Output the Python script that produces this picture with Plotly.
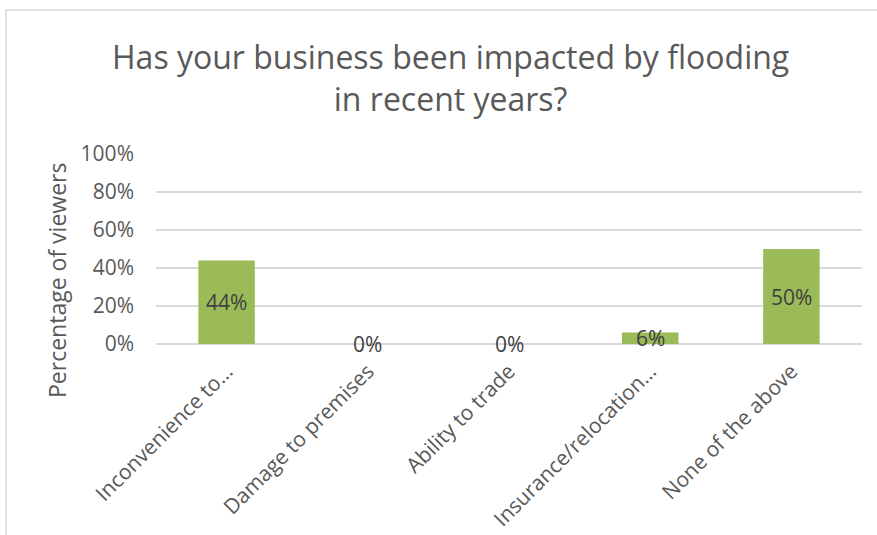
import plotly.graph_objects as go

# Survey responses
categories = [
    "Inconvenience to…",
    "Damage to premises",
    "Ability to trade",
    "Insurance/relocation…",
    "None of the above",
]
shares = [0.44, 0.00, 0.00, 0.06, 0.50]
y_ticks = [0, 0.2, 0.4, 0.6, 0.8, 1.0]
y_tick_labels = ["0%", "20%", "40%", "60%", "80%", "100%"]

title_text = "Has your business been impacted by flooding<br>in recent years?"
y_title = "Percentage of viewers"

W, H = 877, 535
M = dict(l=156, r=15, t=154, b=191)
grey = "#595959"
grid = "#D9D9D9"
font_family = "Open Sans, Liberation Sans, sans-serif"

pw = W - M["l"] - M["r"]
ph = H - M["t"] - M["b"]
def px_x(p):
    return (p - M["l"]) / pw
def px_y(p):
    return (H - M["b"] - p) / ph

fig = go.Figure()
fig.add_trace(go.Bar(
    x=categories,
    y=shares,
    marker=dict(color="#9BBB59", line=dict(width=0)),
    hoverinfo="skip",
))

# Value labels centred on each bar
for c, v in zip(categories, shares):
    fig.add_annotation(
        x=c, y=v / 2, xref="x", yref="y",
        text=f"{round(v * 100)}%", showarrow=False,
        font=dict(family=font_family, size=21, color="#404040"),
    )

# Chart title
fig.add_annotation(
    x=px_x(450), y=px_y(77), xref="paper", yref="paper",
    xanchor="center", yanchor="middle", align="center",
    text=title_text, showarrow=False,
    font=dict(family=font_family, size=32, color=grey),
)

# Vertical axis title
fig.add_annotation(
    x=px_x(57), y=px_y(281), xref="paper", yref="paper",
    xanchor="center", yanchor="middle", textangle=-90,
    text=y_title, showarrow=False,
    font=dict(family=font_family, size=23, color=grey),
)

# Chart-area frame
fig.add_shape(
    type="rect", xref="paper", yref="paper",
    x0=px_x(6), x1=px_x(W + 20), y0=px_y(H + 20), y1=px_y(10),
    line=dict(color=grid, width=1.5), fillcolor="rgba(0,0,0,0)", layer="below",
)

fig.update_layout(
    width=W, height=H,
    margin=M,
    paper_bgcolor="white", plot_bgcolor="white",
    showlegend=False,
    bargap=0.6,
    font=dict(family=font_family, color=grey),
)
fig.update_xaxes(
    showgrid=False, showline=False, zeroline=False, ticks="",
    tickangle=-45, tickfont=dict(size=21, color=grey),
    ticklabelstandoff=10, automargin=False,
)
fig.update_yaxes(
    range=[0, 1], tickvals=y_ticks, ticktext=y_tick_labels,
    showgrid=True, gridcolor=grid, gridwidth=1.5,
    zeroline=True, zerolinecolor=grid, zerolinewidth=1.5,
    showline=False, ticks="", ticklabelstandoff=21,
    tickfont=dict(size=21, color=grey), automargin=False,
)

fig.write_html("out.html")
